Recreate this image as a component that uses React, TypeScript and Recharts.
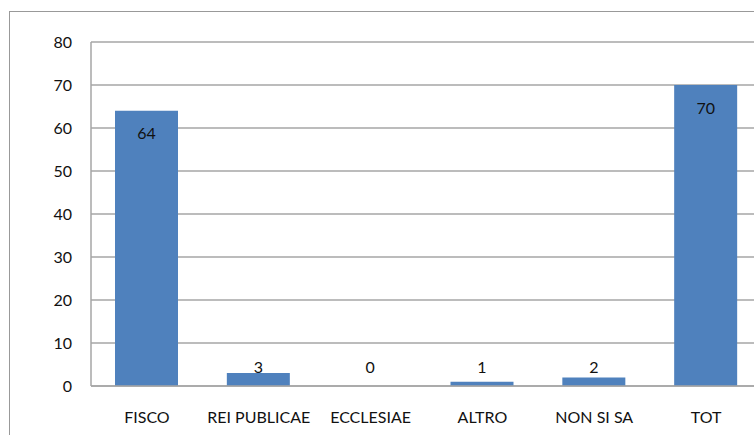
import type { JSX } from "react";

import { Bar, BarChart, CartesianGrid, LabelList, XAxis, YAxis } from "recharts";

const categories = ["FISCO", "REI PUBLICAE", "ECCLESIAE", "ALTRO", "NON SI SA", "TOT"];
const counts = [64, 3, 0, 1, 2, 70];
const yTicks = [0, 10, 20, 30, 40, 50, 60, 70, 80];

const chartData = categories.map((name, i) => ({ name, value: counts[i] }));

const font = "Lato, 'Liberation Sans', sans-serif";

type LabelProps = { x?: number | string; y?: number | string; width?: number | string; value?: number | string };

// Excel-like "inside end": sits inside the bar top, but never lower than just above the axis
function renderValue({ x = 0, y = 0, width = 0, value }: LabelProps): JSX.Element {
	const ty = Math.min(Number(y) + 22, 366);
	return (
		<text
			dominantBaseline="central"
			fill="#111"
			fontFamily={font}
			fontSize={16}
			textAnchor="middle"
			x={Number(x) + Number(width) / 2}
			y={ty}
		>
			{String(value)}
		</text>
	);
}

export default function App(): JSX.Element {
	return (
		<div style={{ background: "#fff", height: 435, left: 0, overflow: "hidden", position: "absolute", top: 0, width: 754 }}>
			<div
				style={{
					borderLeft: "1px solid #999",
					borderTop: "1px solid #999",
					height: 500,
					left: 9,
					position: "absolute",
					top: 11,
					width: 800,
				}}
			/>
			<div style={{ left: 0, position: "absolute", top: 0 }}>
				<BarChart data={chartData} height={435} margin={{ bottom: 0, left: 0, right: 0, top: 42 }} width={762}>
					<CartesianGrid horizontal stroke="#a6a6a6" strokeWidth={1.5} vertical={false} />
					<XAxis
						axisLine={{ stroke: "#a6a6a6", strokeWidth: 1.5 }}
						dataKey="name"
						height={49}
						interval={0}
						tick={{ fill: "#111", fontFamily: font, fontSize: 16 }}
						tickLine={false}
						tickMargin={26}
						tickSize={0}
					/>
					<YAxis
						axisLine={{ stroke: "#a6a6a6", strokeWidth: 1.5 }}
						domain={[0, 80]}
						tick={{ fill: "#111", fontFamily: font, fontSize: 16 }}
						tickLine={false}
						tickMargin={19}
						tickSize={0}
						ticks={yTicks}
						width={91}
					/>
					{/* tiny minPointSize so the zero bar still gets its "0" label */}
					<Bar barSize={63} dataKey="value" fill="#4f81bd" isAnimationActive={false} minPointSize={0.01}>
						<LabelList content={renderValue} dataKey="value" />
					</Bar>
				</BarChart>
			</div>
		</div>
	);
}
